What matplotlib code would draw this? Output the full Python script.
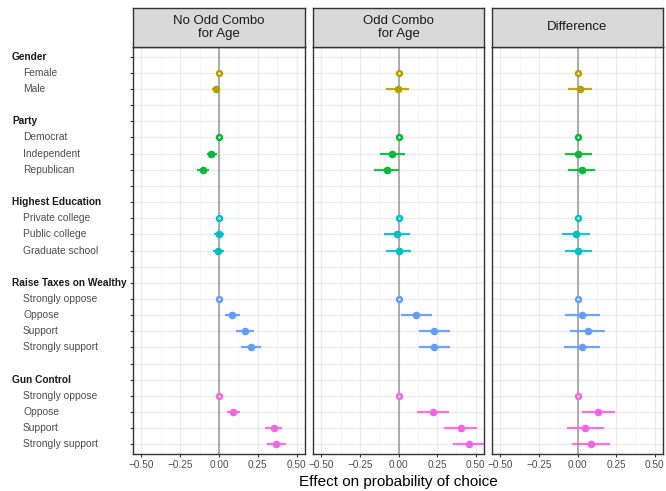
import matplotlib
matplotlib.use("Agg")
import matplotlib.pyplot as plt
import matplotlib.transforms as mtransforms
import numpy as np

plt.rcParams['font.family'] = ['Liberation Sans', 'DejaVu Sans']

# Row layout (top to bottom); empty strings are spacer rows
row_labels = ["Gender", "Female", "Male", "",
              "Party", "Democrat", "Independent", "Republican", "",
              "Highest Education", "Private college", "Public college", "Graduate school", "",
              "Raise Taxes on Wealthy", "Strongly oppose", "Oppose", "Support", "Strongly support", "",
              "Gun Control", "Strongly oppose", "Oppose", "Support", "Strongly support"]
header_rows = [0, 4, 9, 14, 20]

# attribute level rows and their group colour
level_rows = [1, 2, 5, 6, 7, 10, 11, 12, 15, 16, 17, 18, 21, 22, 23, 24]
level_group = [0, 0, 1, 1, 1, 2, 2, 2, 3, 3, 3, 3, 4, 4, 4, 4]
is_baseline = [True, False, True, False, False, True, False, False,
               True, False, False, False, True, False, False, False]
group_colors = ["#B79F00", "#00BA38", "#00BFC4", "#619CFF", "#F564E3"]

panel_titles = ["No Odd Combo\nfor Age", "Odd Combo\nfor Age", "Difference"]

# estimates and 95% intervals per panel
est_no_odd = [0, -0.021, 0, -0.050, -0.105, 0, -0.002, -0.006,
              0, 0.086, 0.167, 0.204, 0, 0.092, 0.352, 0.369]
lo_no_odd = [0, -0.047, 0, -0.079, -0.140, 0, -0.034, -0.040,
             0, 0.039, 0.111, 0.142, 0, 0.051, 0.298, 0.309]
hi_no_odd = [0, 0.008, 0, -0.011, -0.064, 0, 0.034, 0.030,
             0, 0.133, 0.225, 0.268, 0, 0.133, 0.405, 0.433]

est_odd = [0, -0.006, 0, -0.041, -0.077, 0, -0.011, 0.000,
           0, 0.116, 0.232, 0.232, 0, 0.223, 0.403, 0.459]
lo_odd = [0, -0.079, 0, -0.120, -0.157, 0, -0.097, -0.082,
          0, 0.015, 0.133, 0.133, 0, 0.122, 0.294, 0.352]
hi_odd = [0, 0.069, 0, 0.041, 0.004, 0, 0.075, 0.082,
          0, 0.219, 0.332, 0.330, 0, 0.324, 0.510, 0.570]

est_diff = [0, 0.015, 0, 0.006, 0.028, 0, -0.011, 0.004,
            0, 0.032, 0.066, 0.028, 0, 0.135, 0.049, 0.088]
lo_diff = [0, -0.062, 0, -0.082, -0.062, 0, -0.101, -0.084,
           0, -0.082, -0.049, -0.090, 0, 0.026, -0.069, -0.034]
hi_diff = [0, 0.097, 0, 0.097, 0.116, 0, 0.082, 0.097,
           0, 0.144, 0.180, 0.144, 0, 0.245, 0.172, 0.212]

panel_data = [(est_no_odd, lo_no_odd, hi_no_odd),
              (est_odd, lo_odd, hi_odd),
              (est_diff, lo_diff, hi_diff)]

x_ticks = [-0.50, -0.25, 0.00, 0.25, 0.50]
x_tick_labels = ["\u22120.50", "\u22120.25", "0.00", "0.25", "0.50"]

W, H = 666, 491
fig = plt.figure(figsize=(W / 100, H / 100), dpi=100)

panel_x = [(133, 305), (313, 484), (492, 663)]
panel_top, panel_bottom, strip_top = 47, 454, 8
n_rows = len(row_labels)

for p, ((x0, x1), (est, lo, hi), title) in enumerate(zip(panel_x, panel_data, panel_titles)):
    ax = fig.add_axes([x0 / W, 1 - panel_bottom / H, (x1 - x0) / W, (panel_bottom - panel_top) / H])
    ax.set_xlim(-0.553, 0.553)
    ax.set_ylim(n_rows - 1 + 0.6, -0.6)
    ax.set_facecolor("white")

    # grid
    for xv in x_ticks:
        ax.axvline(xv, color="#EBEBEB", lw=1.0, zorder=0)
    for xv in [-0.375, -0.125, 0.125, 0.375]:
        ax.axvline(xv, color="#F5F5F5", lw=0.6, zorder=0)
    for r in range(n_rows):
        ax.axhline(r, color="#EBEBEB", lw=1.0, zorder=0)
    ax.axvline(0, color="#ABABAB", lw=1.4, zorder=1)

    for i, r in enumerate(level_rows):
        c = group_colors[level_group[i]]
        if is_baseline[i]:
            ax.plot(est[i], r, marker="o", ms=3.5, mfc="white", mec=c, mew=1.8,
                    ls="none", zorder=4, clip_on=False)
        else:
            ax.plot([lo[i], hi[i]], [r, r], color=c, lw=1.6, solid_capstyle="butt",
                    zorder=3, alpha=0.9)
            ax.plot(est[i], r, marker="o", ms=4.5, color=c, ls="none", zorder=4)

    ax.set_xticks(x_ticks)
    ax.set_xticklabels(x_tick_labels, fontsize=7.2, color="#4D4D4D")
    ax.tick_params(axis="x", length=2.5, width=0.8, color="#333333", pad=2)
    ax.set_yticks(range(n_rows))
    ax.set_yticklabels([])
    if p == 0:
        ax.tick_params(axis="y", length=2.5, width=0.8, color="#333333")
    else:
        ax.tick_params(axis="y", length=0)
    for s in ax.spines.values():
        s.set_color("#333333")
        s.set_linewidth(1.0)

    # facet strip
    sax = fig.add_axes([x0 / W, 1 - panel_top / H, (x1 - x0) / W, (panel_top - strip_top) / H])
    sax.set_facecolor("#D9D9D9")
    sax.set_xticks([])
    sax.set_yticks([])
    for s in sax.spines.values():
        s.set_color("#333333")
        s.set_linewidth(1.0)
    sax.text(0.5, 0.5, title, ha="center", va="center", fontsize=9.5,
             color="#1A1A1A", linespacing=1.15, transform=sax.transAxes)

    if p == 0:
        trans = mtransforms.blended_transform_factory(fig.transFigure, ax.transData)
        for r, lab in enumerate(row_labels):
            if not lab:
                continue
            if r in header_rows:
                ax.text(12 / W, r, lab, transform=trans, ha="left", va="center",
                        fontsize=7.3, fontweight="bold", color="#1A1A1A")
            else:
                ax.text(23 / W, r, lab, transform=trans, ha="left", va="center",
                        fontsize=7.4, color="#4D4D4D")

fig.text(398 / W, 1 - 482 / H, "Effect on probability of choice", ha="center",
         va="center", fontsize=11, color="black")

fig.savefig("out.png", dpi=100)
